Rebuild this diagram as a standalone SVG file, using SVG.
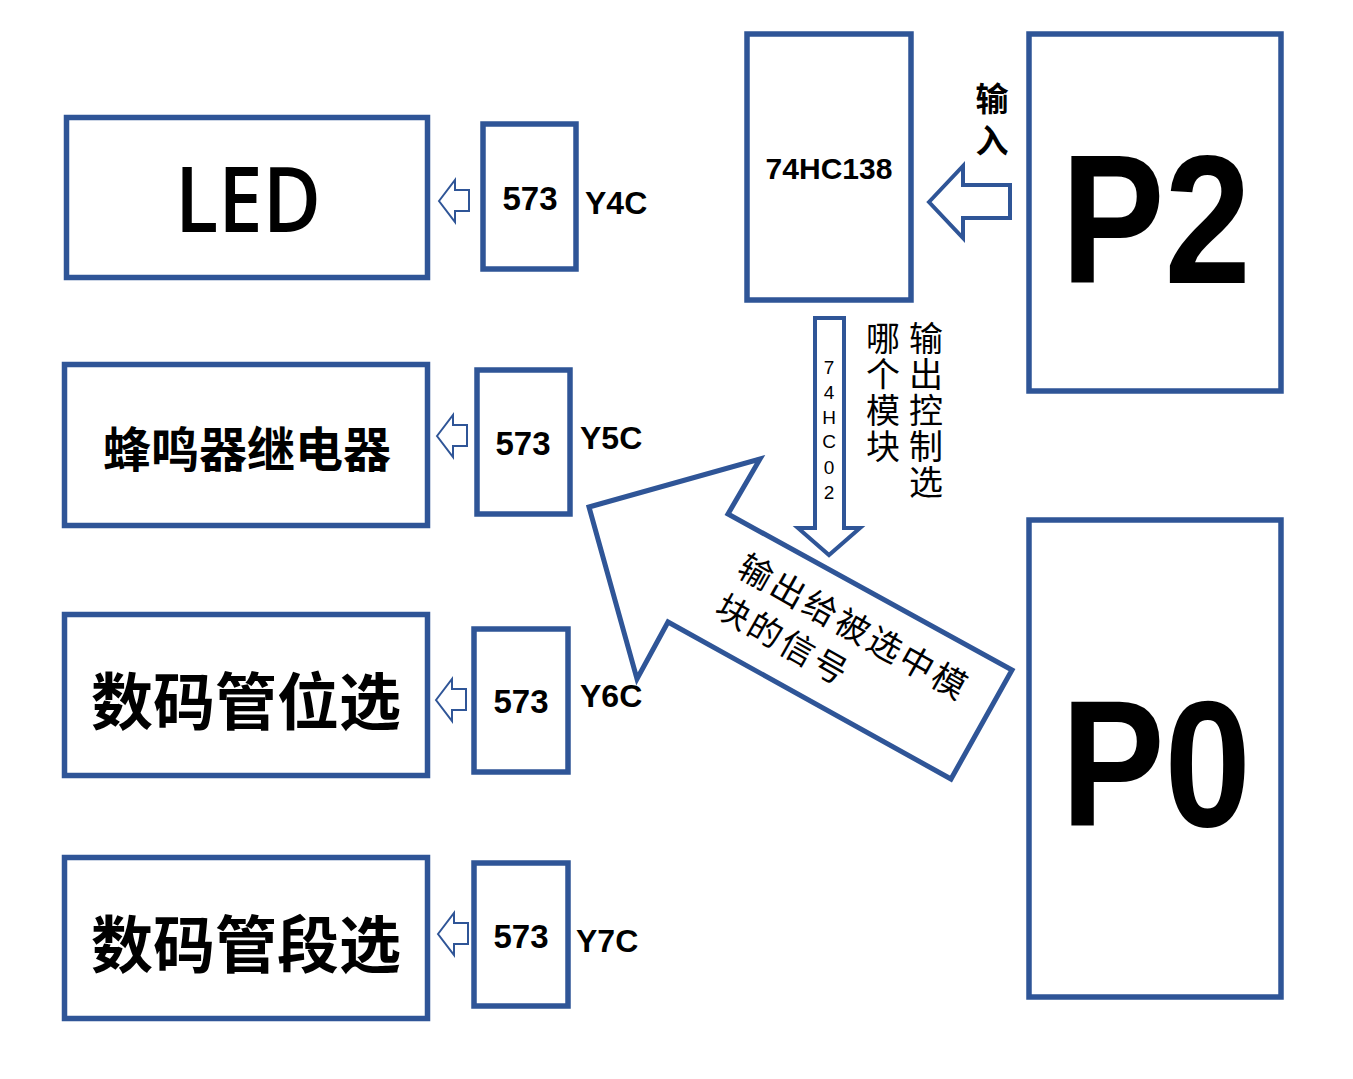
<svg xmlns="http://www.w3.org/2000/svg" width="1353" height="1079" viewBox="0 0 1353 1079">
<style>
.box{fill:#fff;stroke:#2F5597;stroke-width:5.5}
.arr{fill:#fff;stroke:#2F5597;stroke-width:4;stroke-linejoin:miter}
.sarr{fill:#fff;stroke:#2F5597;stroke-width:2}
.lat{font-family:"Liberation Sans",Arial,sans-serif;fill:#000}
.cjk{font-family:"Noto Sans CJK SC",sans-serif;fill:#000}
.b{font-weight:bold}
.vt{writing-mode:vertical-rl}
</style>
<defs>
<path id="sa" d="M0,0 L16,-21 L16,-11 L30,-11 L30,10 L16,10 L16,21 Z"/>
</defs>
<rect width="1353" height="1079" fill="#fff"/>

<g id="connectors">
<use href="#sa" class="sarr" x="439" y="201"/>
<use href="#sa" class="sarr" x="437" y="436"/>
<use href="#sa" class="sarr" x="436" y="700"/>
<use href="#sa" class="sarr" x="438" y="934"/>
<path class="arr" d="M929,202 L963,166 L963,185 L1010,185 L1010,218 L963,218 L963,238 Z"/>
<path class="arr" d="M815,318 L844,318 L844,528 L860,528 L829,555 L798,528 L815,528 Z"/>
<path class="arr" style="stroke-width:5" d="M589,507 L760,459 L728,514 L1012,670 L951,779 L668,622 L637,679 Z"/>
</g>

<g id="led">
<rect class="box" x="66.5" y="117.5" width="361" height="160"/>
<text x="248" y="232" text-anchor="middle" font-family="'Open Sans','Noto Sans',sans-serif" font-weight="600" font-size="90" textLength="146" lengthAdjust="spacingAndGlyphs">LED</text>
</g>
<g id="buzzer">
<rect class="box" x="64.5" y="364.5" width="363" height="161"/>
<text class="cjk b" x="247" y="446" text-anchor="middle" dominant-baseline="central" font-size="48">蜂鸣器继电器</text>
</g>
<g id="digit-pos">
<rect class="box" x="64.5" y="614.5" width="363" height="161"/>
<text class="cjk b" x="246" y="698" text-anchor="middle" dominant-baseline="central" font-size="62">数码管位选</text>
</g>
<g id="digit-seg">
<rect class="box" x="64.5" y="857.5" width="363" height="161"/>
<text class="cjk b" x="246" y="941" text-anchor="middle" dominant-baseline="central" font-size="62">数码管段选</text>
</g>

<g id="l573a">
<rect class="box" x="483" y="124" width="93" height="145"/>
<text class="lat b" x="530" y="210" text-anchor="middle" font-size="33">573</text>
<text class="lat b" x="585" y="214" font-size="32">Y4C</text>
</g>
<g id="l573b">
<rect class="box" x="477" y="370" width="93" height="144"/>
<text class="lat b" x="523" y="455" text-anchor="middle" font-size="33">573</text>
<text class="lat b" x="580" y="449" font-size="32">Y5C</text>
</g>
<g id="l573c">
<rect class="box" x="474" y="629" width="94" height="143"/>
<text class="lat b" x="521" y="713" text-anchor="middle" font-size="33">573</text>
<text class="lat b" x="580" y="707" font-size="32">Y6C</text>
</g>
<g id="l573d">
<rect class="box" x="474" y="863" width="94" height="143"/>
<text class="lat b" x="521" y="948" text-anchor="middle" font-size="33">573</text>
<text class="lat b" x="576" y="952" font-size="32">Y7C</text>
</g>

<g id="hc138">
<rect class="box" x="747" y="34" width="164" height="266"/>
<text class="lat b" x="829" y="179" text-anchor="middle" font-size="30">74HC138</text>
</g>

<g id="p2">
<rect class="box" x="1029" y="34" width="252" height="357"/>
<text class="lat b" x="1061" y="283" font-size="184" textLength="190" lengthAdjust="spacingAndGlyphs">P2</text>
</g>
<g id="p0">
<rect class="box" x="1029" y="520" width="252" height="477"/>
<text class="lat b" x="1061" y="826" font-size="180" textLength="190" lengthAdjust="spacingAndGlyphs">P0</text>
</g>

<g id="labels">
<text class="cjk b vt" x="992" y="82" font-size="33" letter-spacing="9">输入</text>
<g class="lat" font-size="19" text-anchor="middle">
<text x="829" y="374">7</text>
<text x="829" y="399">4</text>
<text x="829" y="424">H</text>
<text x="829" y="448">C</text>
<text x="829" y="474">0</text>
<text x="829" y="499">2</text>
</g>
<text class="cjk vt" x="883" y="321" font-size="34" letter-spacing="2">哪个模块</text>
<text class="cjk vt" x="926" y="321" font-size="34" letter-spacing="2">输出控制选</text>
<g transform="translate(757,570) rotate(29.5)">
<text class="cjk" x="-17" y="0" dominant-baseline="central" font-size="34" letter-spacing="3">输出给被选中模</text>
<text class="cjk" x="-17" y="46" dominant-baseline="central" font-size="34" letter-spacing="3">块的信号</text>
</g>
</g>
</svg>
